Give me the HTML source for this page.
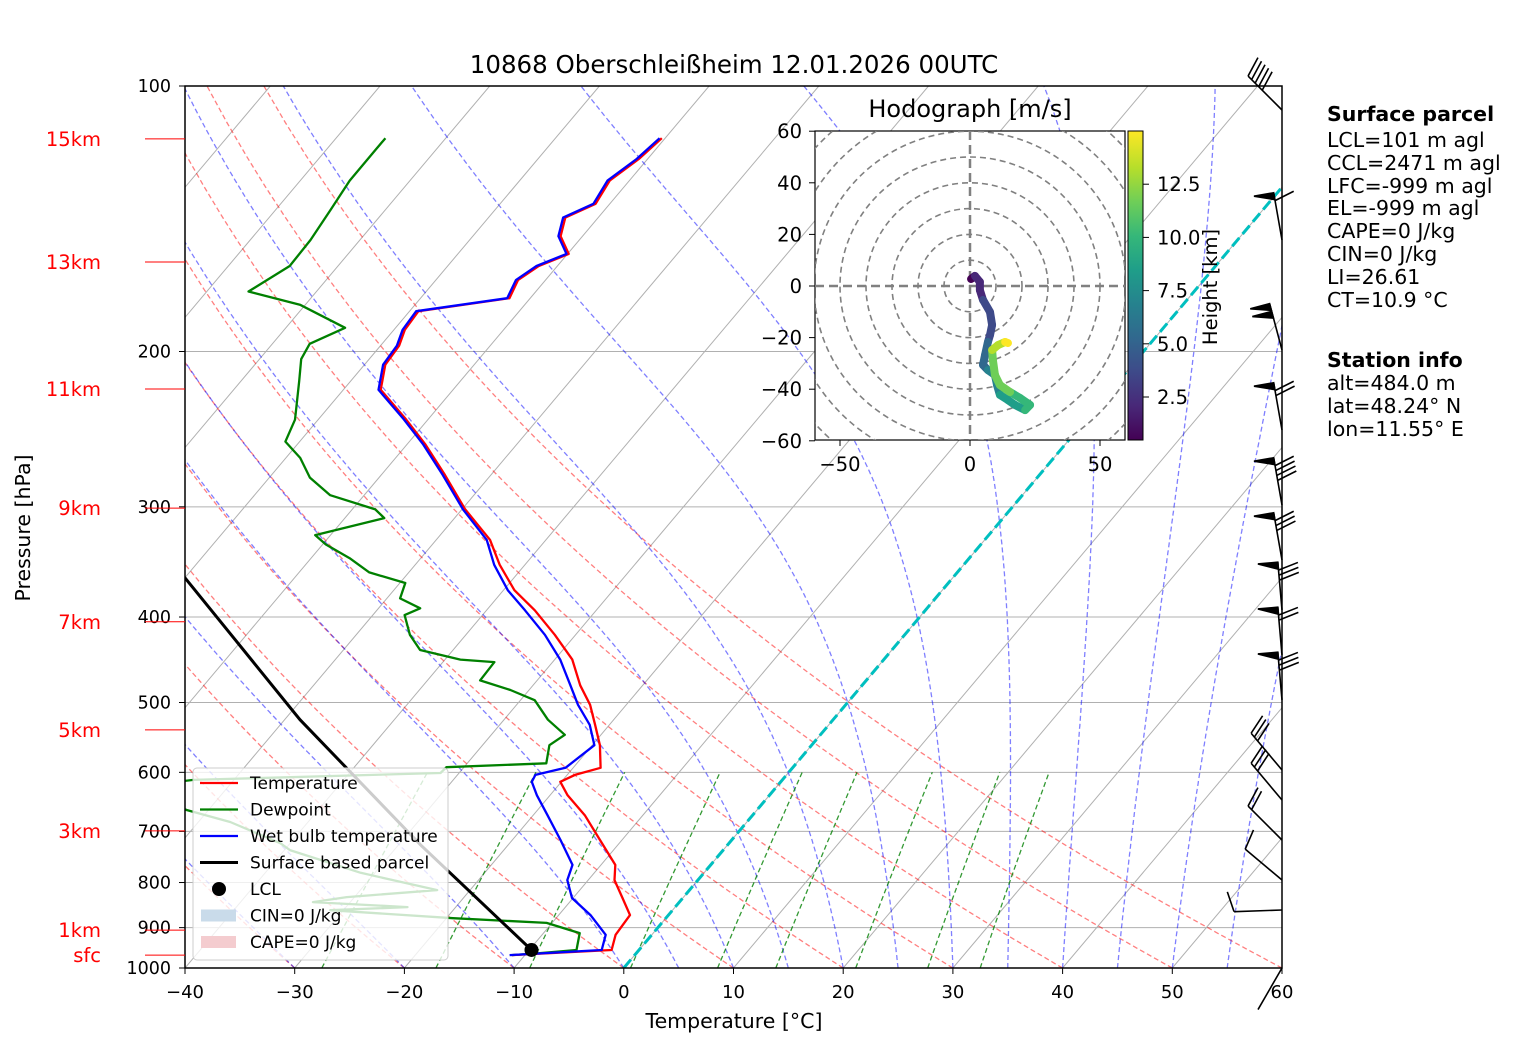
<!DOCTYPE html>
<html><head><meta charset="utf-8">
<style>
body{margin:0;background:#fff;}
svg{display:block;font-family:"DejaVu Sans","Liberation Sans",sans-serif;}
</style></head>
<body>
<svg id="chart" width="1517" height="1054" viewBox="0 0 1517 1054" xmlns="http://www.w3.org/2000/svg">
<defs>
<clipPath id="plotclip"><rect x="185" y="86" width="1097" height="882"/></clipPath>
<clipPath id="hodoclip"><rect x="815" y="131" width="310" height="309"/></clipPath>
<linearGradient id="viridis" x1="0" y1="1" x2="0" y2="0">
<stop offset="0" stop-color="#440154"/><stop offset="0.11" stop-color="#482878"/><stop offset="0.22" stop-color="#3e4a89"/><stop offset="0.33" stop-color="#31688e"/><stop offset="0.44" stop-color="#26828e"/><stop offset="0.55" stop-color="#1f9e89"/><stop offset="0.66" stop-color="#35b779"/><stop offset="0.77" stop-color="#6ece58"/><stop offset="0.88" stop-color="#b5de2b"/><stop offset="1" stop-color="#fde725"/>
</linearGradient>
</defs>
<text x="734" y="73" font-size="24.5" text-anchor="middle">10868 Oberschleißheim 12.01.2026 00UTC</text>
<g id="bg" clip-path="url(#plotclip)"></g>
<g id="series" clip-path="url(#plotclip)"></g>
<g id="axes"></g>
<g id="legend"></g>
<g id="hodo"></g>
<g id="barbs"></g>
<g font-size="20.5">
<text x="1327" y="121" font-weight="bold">Surface parcel</text>
<text x="1327" y="147">LCL=101 m agl</text>
<text x="1327" y="170">CCL=2471 m agl</text>
<text x="1327" y="193">LFC=-999 m agl</text>
<text x="1327" y="215">EL=-999 m agl</text>
<text x="1327" y="238">CAPE=0 J/kg</text>
<text x="1327" y="261">CIN=0 J/kg</text>
<text x="1327" y="284">LI=26.61</text>
<text x="1327" y="307">CT=10.9 °C</text>
<text x="1327" y="367" font-weight="bold">Station info</text>
<text x="1327" y="390">alt=484.0 m</text>
<text x="1327" y="413">lat=48.24° N</text>
<text x="1327" y="436">lon=11.55° E</text>
</g>
</svg>
<script>
const tempP=[967,954,917,871,833,795,764,716,671,637,615,604,593,559,530,503,478,447,419,393,373,349,327,302,276,255,238,221,207,197,189,180,174,166,160,155,148,141,136,128,121,114.6];
const tempT=[-11.2,-2.5,-3.3,-3.5,-5.5,-7.6,-8.7,-12.0,-15.3,-18.4,-20.1,-19.3,-17.5,-19.3,-21.3,-23.3,-25.7,-28.4,-31.9,-35.6,-39.0,-42.3,-45.1,-49.7,-54.2,-58.3,-62.2,-66.6,-68.1,-68.3,-69.0,-69.2,-61.9,-62.5,-61.7,-59.9,-62.0,-63.0,-61.3,-61.8,-60.8,-60.3];
const wetT=[-11.4,-3.4,-4.2,-7.1,-10.1,-11.9,-12.6,-15.6,-18.7,-21.2,-22.7,-22.9,-20.7,-19.8,-21.8,-24.4,-26.6,-29.5,-32.8,-36.5,-39.6,-42.8,-45.4,-49.9,-54.4,-58.5,-62.4,-66.8,-68.3,-68.5,-69.2,-69.4,-62.1,-62.7,-61.9,-60.1,-62.2,-63.2,-61.5,-62.0,-61.0,-60.5];
const dewP=[967,962,954,913,889,878,860,853,842,831,816,780,735,722,683,662,637,620,612,601,592,586,559,544,523,497,484,472,450,447,436,419,398,391,381,366,356,343,331,323,309,302,291,278,264,253,239,216,204,196,188,177,171,160,149.5,138,128,118,114.6];
const dewT=[-11.2,-8.8,-5.7,-6.7,-10.5,-19.4,-31.2,-24.4,-33.4,-30.7,-23.0,-31.3,-39.5,-40.9,-47.1,-52.0,-56.5,-57.3,-53.7,-31.7,-31.6,-22.8,-23.9,-23.3,-26.0,-28.7,-31.7,-35.2,-35.3,-38.6,-43.0,-45.1,-47.1,-46.2,-48.8,-49.5,-53.6,-56.5,-59.7,-61.4,-56.4,-57.9,-63.1,-66.3,-68.7,-71.3,-72.1,-74.7,-76.2,-76.6,-74.6,-80.5,-86.2,-84.4,-84.5,-85.0,-85.5,-85.5,-85.5];
const parcelP=[954,725,523,361,280];
const parcelT=[-9.8,-28.0,-48.6,-70.0,-86.2];
const lclP=[954];const lclT=[-9.8];
const hodoU=[0.4,1.9,3.8,3.8,5.0,7.7,8.5,7.7,6.9,5.8,5.0,6.9,9.6,10.4,11.5,14.6,17.3,21.2,23.1,19.2,15.4,11.5,9.6,8.8,8.5,10.8,13.5,14.6];
const hodoV=[2.7,3.9,1.6,-1.6,-5.4,-10.1,-15.1,-19.0,-21.7,-26.7,-30.6,-32.6,-34.5,-38.4,-42.2,-44.2,-46.1,-48.1,-46.1,-43.4,-41.1,-38.4,-34.5,-28.7,-24.8,-22.9,-21.7,-22.1];
const hodoH=[0.5,1,1.5,2,2.5,3,3.5,4,4.5,5,5.5,6,6.5,7,7.5,8,8.5,9,9.5,10,10.5,11,11.5,12,12.5,13,14,14.5];
const pTicks=[100,200,300,400,500,600,700,800,900,1000];
const tTicks=[-40,-30,-20,-10,0,10,20,30,40,50,60];
const kmLabels=["15km","13km","11km","9km","7km","5km","3km","1km","sfc"];
const kmP=[114.8,158.3,220.6,301,405,537,699,906,967];
const barbY=[110,240,350,430,505,560,610,655,700,770,800,840,880,910,968];
const barbAng=[-45,-10,-15,-10,-10,-10,-5,-5,-5,-40,-40,-45,-50,-92,-150];
const barbFlags=[0,1,2,1,1,1,1,1,1,0,0,0,0,0,0];
const barbFull=[5,1,0,2,4,3,3,2,3,3,3,2,1,1,0];

const NS="http://www.w3.org/2000/svg";
const X0=185,X1=1282,Y0=86,Y1=968,SK=0.843,PX=10.97;
function yP(p){return Y1-Math.log10(1000/p)*882;}
function xT(t,p){return X0+(t+40)*PX+(Y1-yP(p))*SK;}
function el(tag,attrs,parent){const e=document.createElementNS(NS,tag);for(const k in attrs)e.setAttribute(k,attrs[k]);parent.appendChild(e);return e;}
function pathD(ts,ps){return ts.map((t,i)=>(i?'L':'M')+xT(t,ps[i]).toFixed(1)+','+yP(ps[i]).toFixed(1)).join('');}
const bg=document.getElementById('bg');
for(let t=-130;t<=60;t+=10){
 const l=el('line',{x1:xT(t,1000),y1:yP(1000),x2:xT(t,100),y2:yP(100),stroke:'#b0b0b0','stroke-width':1},bg);
 
 
}
pTicks.forEach(p=>{const l=el('line',{x1:X0,x2:X1,y1:yP(p),y2:yP(p),stroke:'#b0b0b0','stroke-width':1},bg);
 
 });
for(let th=-40;th<=60;th+=10){let ts=[],ps=[];for(let p=1000;p>=100;p-=10){ps.push(p);ts.push((th+273.15)*Math.pow(p/1000,0.2857)-273.15);}
 const l=el('path',{d:pathD(ts,ps),fill:'none',stroke:'#ff0000','stroke-opacity':0.5,'stroke-width':1.3,'stroke-dasharray':'5,3'},bg);
 
 }
function es(tc){return 6.112*Math.exp(17.67*tc/(tc+243.5));}
const moist0=[-40,-30,-20,-10,0,5,10,15,20,25,30,35,40,45,50,55,60];
moist0.forEach(t0=>{let T=t0+273.15,ts=[t0],ps=[1000];for(let p=1000;p>100;p-=2){const e=es(T-273.15);const rs=0.622*e/(p-e);
 const dTdp=(287.04*T+2.501e6*rs)/(p*(1005.7+2.501e6*2.501e6*rs*0.622/(287.04*T*T)));T-=dTdp*2;ps.push(p-2);ts.push(T-273.15);}
 const l=el('path',{d:pathD(ts,ps),fill:'none',stroke:'#0000ff','stroke-opacity':0.5,'stroke-width':1.3,'stroke-dasharray':'5,3'},bg);
 
 });
[0.0004,0.001,0.002,0.004,0.007,0.01,0.016,0.024,0.032].forEach(w=>{let ts=[],ps=[];for(let p=1000;p>=600;p-=20){const e=p*w/(0.622+w);const a=Math.log(e/6.112);ps.push(p);ts.push(243.5*a/(17.67-a));}
 const l=el('path',{d:pathD(ts,ps),fill:'none',stroke:'#008000','stroke-opacity':0.8,'stroke-width':1.3,'stroke-dasharray':'5,3'},bg);
 
 });
const iso0=el('line',{x1:xT(0,1000),y1:yP(1000),x2:xT(0,100),y2:yP(100),stroke:'#00bfbf','stroke-width':3,'stroke-dasharray':'11,5'},bg);


const sr=document.getElementById('series');
const dl=el('path',{d:pathD(dewT,dewP),fill:'none',stroke:'#008000','stroke-width':2.3,'stroke-linejoin':'round'},sr);


const tl=el('path',{d:pathD(tempT,tempP),fill:'none',stroke:'#ff0000','stroke-width':2.3,'stroke-linejoin':'round'},sr);


const wl=el('path',{d:pathD(wetT,tempP),fill:'none',stroke:'#0000ff','stroke-width':2.3,'stroke-linejoin':'round'},sr);


const pl=el('path',{d:pathD(parcelT,parcelP),fill:'none',stroke:'#000','stroke-width':3},sr);


const lc=el('circle',{cx:xT(lclT[0],lclP[0]),cy:yP(lclP[0]),r:7,fill:'#000'},sr);


const ax=document.getElementById('axes');
const fr=el('rect',{x:X0,y:Y0,width:X1-X0,height:Y1-Y0,fill:'none',stroke:'#000','stroke-width':1.5},ax);


pTicks.forEach(p=>{el('line',{x1:X0-6,x2:X0,y1:yP(p),y2:yP(p),stroke:'#000'},ax);
 const t=el('text',{x:X0-14,y:yP(p)+6,'font-size':17.5,'text-anchor':'end'},ax);t.textContent=p;
 
 });
tTicks.forEach(v=>{const x=X0+(v+40)*PX;el('line',{x1:x,x2:x,y1:Y1,y2:Y1+6,stroke:'#000'},ax);
 const t=el('text',{x:x,y:Y1+30,'font-size':18,'text-anchor':'middle'},ax);t.textContent=(v<0?'\u2212'+(-v):v);
 
 });
kmLabels.forEach((k,i)=>{const y=yP(kmP[i]);el('line',{x1:145,x2:X0,y1:y,y2:y,stroke:'#ff0000','stroke-width':1},ax);
 const t=el('text',{x:101,y:y+7,'font-size':19.5,'text-anchor':'end',fill:'#ff0000'},ax);t.textContent=k;
 
 });
const xl=el('text',{x:734,y:1028,'font-size':20.5,'text-anchor':'middle'},ax);xl.textContent='Temperature [°C]';


const yl=el('text',{x:30,y:528,'font-size':20.5,'text-anchor':'middle',transform:'rotate(-90 30 528)'},ax);yl.textContent='Pressure [hPa]';


const lg=document.getElementById('legend');
const lb=el('rect',{x:193,y:768,width:255,height:192,rx:4,fill:'#fff','fill-opacity':0.8,stroke:'#ccc'},lg);


const items=[['Temperature','#ff0000','line'],['Dewpoint','#008000','line'],['Wet bulb temperature','#0000ff','line'],['Surface based parcel','#000','thick'],['LCL','#000','dot'],['CIN=0 J/kg','#c9dbea','patch'],['CAPE=0 J/kg','#f4cccf','patch']];
items.forEach((it,i)=>{const y=783+i*26.5;const g=el('g',{},lg);
 
 
 if(it[2]==='line'||it[2]==='thick')el('line',{x1:200,x2:238,y1:y,y2:y,stroke:it[1],'stroke-width':it[2]==='thick'?3:2.2},g);
 else if(it[2]==='dot')el('circle',{cx:219,cy:y,r:7,fill:'#000'},g);
 else el('rect',{x:201,y:y-6,width:35,height:12,fill:it[1]},g);
 const t=el('text',{x:250,y:y+6,'font-size':17},g);t.textContent=it[0];});
const hg=document.getElementById('hodo');
const HX=970,HY=286,HS=2.6,HSY=2.58;
const hb=el('rect',{x:815,y:131,width:310,height:309,fill:'#fff',stroke:'#000','stroke-width':1.2},hg);


const hc=el('g',{'clip-path':'url(#hodoclip)'},hg);
for(let r=10;r<=80;r+=10)el('ellipse',{cx:HX,cy:HY,rx:r*HS,ry:r*HSY,fill:'none',stroke:'#808080','stroke-width':1.6,'stroke-dasharray':'6,4'},hc);
el('line',{x1:815,x2:1125,y1:HY,y2:HY,stroke:'#808080','stroke-width':2.5,'stroke-dasharray':'9,5'},hc);
el('line',{x1:HX,x2:HX,y1:131,y2:440,stroke:'#808080','stroke-width':2.5,'stroke-dasharray':'9,5'},hc);
const vir=['#440154','#482878','#3e4a89','#31688e','#26828e','#1f9e89','#35b779','#6ece58','#b5de2b','#fde725'];
function vcol(h){let f=(h-0.48)/(15-0.48);f=Math.max(0,Math.min(1,f));return vir[Math.round(f*9)];}
for(let i=1;i<hodoU.length;i++){const s=el('line',{x1:HX+hodoU[i-1]*HS,y1:HY-hodoV[i-1]*HSY,x2:HX+hodoU[i]*HS,y2:HY-hodoV[i]*HSY,stroke:vcol(hodoH[i]),'stroke-width':8,'stroke-linecap':'round'},hc);
 
 }
const ht=el('text',{x:970,y:117,'font-size':24,'text-anchor':'middle'},hg);ht.textContent='Hodograph [m/s]';


[60,40,20,0,-20,-40,-60].forEach(v=>{const y=HY-v*HSY;el('line',{x1:809,x2:815,y1:y,y2:y,stroke:'#000'},hg);
 const t=el('text',{x:802,y:y+7,'font-size':19.5,'text-anchor':'end'},hg);t.textContent=v<0?'\u2212'+(-v):v;});
[-50,0,50].forEach(v=>{const x=HX+v*HS;el('line',{x1:x,x2:x,y1:440,y2:446,stroke:'#000'},hg);
 const t=el('text',{x:x,y:471,'font-size':19.5,'text-anchor':'middle'},hg);t.textContent=v<0?'\u2212'+(-v):v;});
const cb=el('rect',{x:1128,y:131,width:15,height:309,fill:'url(#viridis)',stroke:'#000'},hg);


[2.5,5,7.5,10,12.5].forEach(v=>{const y=440-(v-0.48)/(15-0.48)*309;el('line',{x1:1143,x2:1149,y1:y,y2:y,stroke:'#000'},hg);
 const t=el('text',{x:1157,y:y+7,'font-size':19.5},hg);t.textContent=v.toFixed(1);});
const cl=el('text',{x:1217,y:287,'font-size':19.5,'text-anchor':'middle',transform:'rotate(-90 1217 287)'},hg);cl.textContent='Height [km]';


const bgp=document.getElementById('barbs');
barbY.forEach((y,i)=>{const a=barbAng[i]*Math.PI/180;const L=48;const dx=Math.sin(a),dy=-Math.cos(a);
 const tx=X1+dx*L,ty=y+dy*L;const g=el('g',{stroke:'#000','stroke-width':1.6,fill:'#000'},bgp);
 
 
 el('line',{x1:X1,y1:y,x2:tx,y2:ty},g);
 const px=-dy,py=dx;
 let pos=0;
 for(let f=0;f<barbFlags[i];f++){const bx=tx-dx*pos,by=ty-dy*pos;
  el('polygon',{points:`${bx},${by} ${bx-px*20},${by-py*20} ${bx-dx*7},${by-dy*7}`},g);pos+=8;}
 for(let f=0;f<barbFull[i];f++){const bx=tx-dx*pos,by=ty-dy*pos;
  el('line',{x1:bx,y1:by,x2:bx+px*20+dx*6,y2:by+py*20+dy*6},g);pos+=5;}
});
</script>
</body></html>
